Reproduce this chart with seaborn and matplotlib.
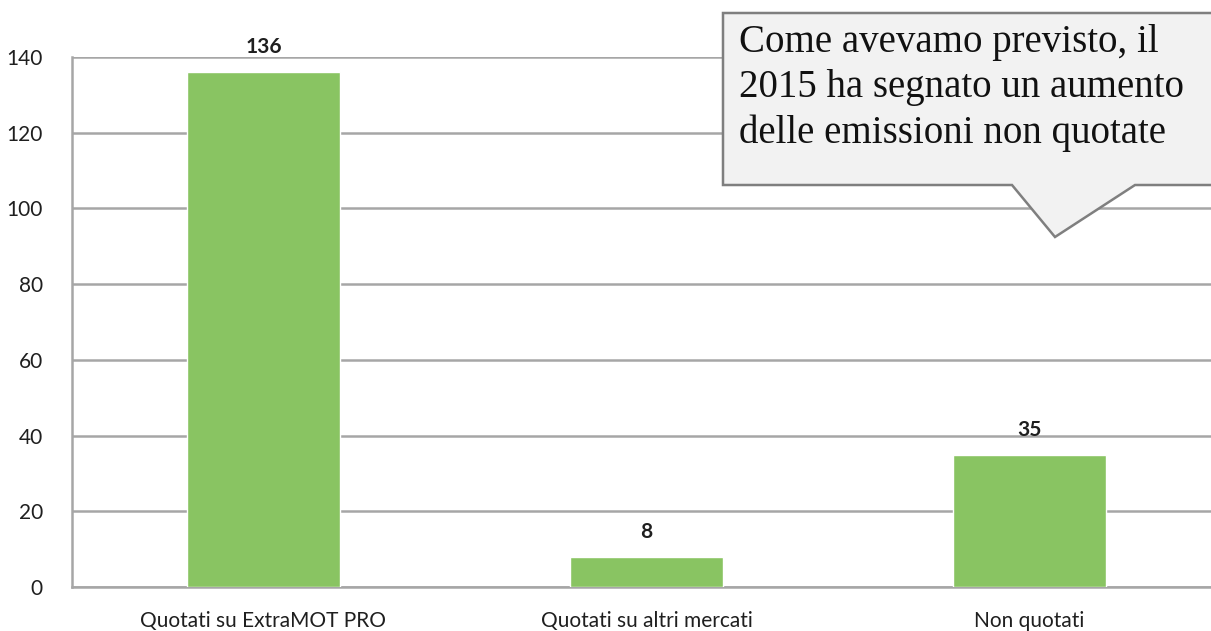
import matplotlib
matplotlib.use("Agg")
import matplotlib.pyplot as plt
from matplotlib.patches import Polygon
import seaborn as sns
import pandas as pd

categories = ["Quotati su ExtraMOT PRO", "Quotati su altri mercati", "Non quotati"]
values = [136, 8, 35]
y_ticks = [0, 20, 40, 60, 80, 100, 120, 140]
callout_text = "Come avevamo previsto, il\n2015 ha segnato un aumento\ndelle emissioni non quotate"

sns.set_style("white")
plt.rcParams["font.family"] = ["Lato", "DejaVu Sans"]

W, H = 1211, 631
fig = plt.figure(figsize=(W / 100, H / 100), dpi=100)
ax = fig.add_axes([72 / W, 44 / H, (1221 - 72) / W, (587 - 57) / H])

df = pd.DataFrame({"cat": categories, "val": values})
sns.barplot(data=df, x="cat", y="val", color="#89C462", width=0.4,
            saturation=1, ax=ax, zorder=3)

ax.set_xlim(-0.5, 2.5)
ax.set_ylim(0, 140)
ax.set_yticks(y_ticks)
ax.set_xlabel("")
ax.set_ylabel("")

grid_c = "#a6a6a6"
ax.yaxis.grid(True, color=grid_c, linewidth=1.8, zorder=0)
for s in ["top", "right"]:
    ax.spines[s].set_visible(False)
ax.spines["left"].set_color(grid_c)
ax.spines["left"].set_linewidth(1.8)
ax.spines["bottom"].set_color(grid_c)
ax.spines["bottom"].set_linewidth(1.8)

ax.tick_params(axis="y", length=7, width=1.5, color=grid_c, pad=14,
               labelsize=15, labelcolor="#1f1f1f")
ax.set_xticks([0, 1, 2])
ax.set_xticklabels(categories)
ax.tick_params(axis="x", length=0, pad=17, labelsize=15, labelcolor="#1f1f1f")
# category separators on the x axis
ax.set_xticks([0.5, 1.5], minor=True)
ax.tick_params(axis="x", which="minor", length=7, width=1.5, color=grid_c)

for i, v in enumerate(values):
    ax.annotate(str(v), (i, v), xytext=(0, 18), textcoords="offset points",
                ha="center", va="center", fontsize=15, fontweight="bold",
                color="#1f1f1f")

# speech-bubble callout
pts = [(723, 13), (1216, 13), (1216, 185), (1135, 185), (1055, 237),
       (1012, 185), (723, 185)]
poly = Polygon([(x / W, 1 - y / H) for x, y in pts], closed=True,
               transform=fig.transFigure, facecolor="#f2f2f2",
               edgecolor="#7f7f7f", linewidth=1.8, zorder=10)
fig.add_artist(poly)
fig.text(739 / W, 1 - 24 / H, callout_text, ha="left", va="top",
         fontsize=28, family=["Liberation Serif", "DejaVu Serif"],
         color="#111111", linespacing=1.3, zorder=11)

fig.savefig("out.png", dpi=100)
